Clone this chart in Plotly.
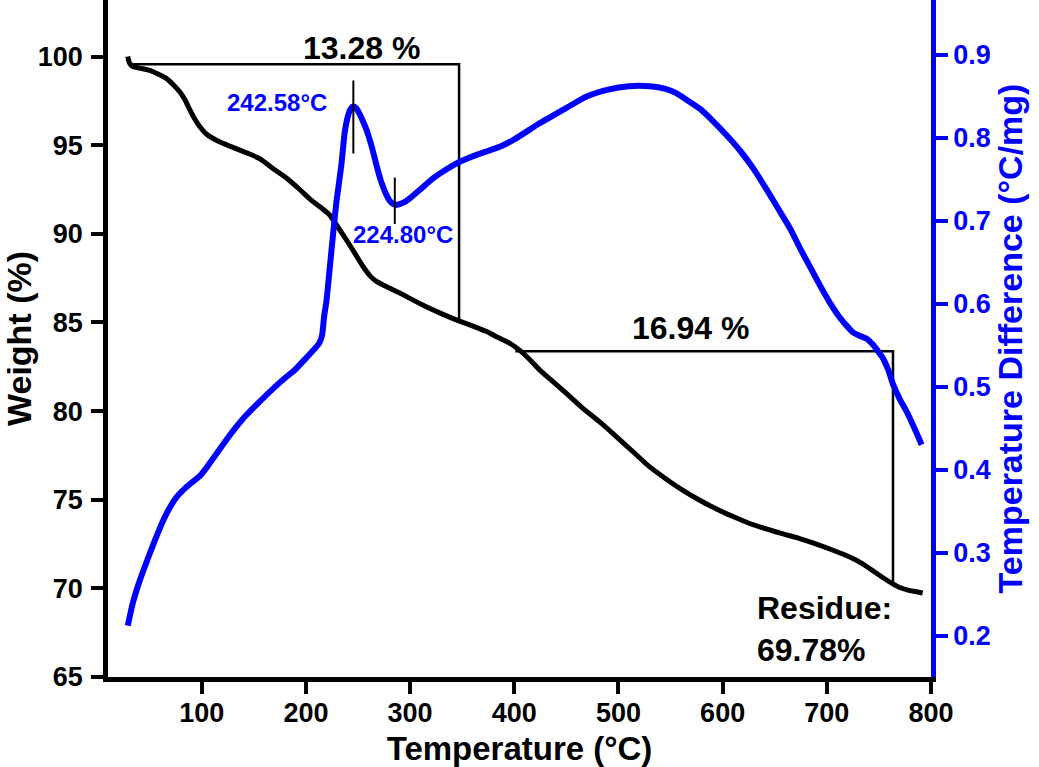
import plotly.graph_objects as go

# ---- TGA (weight %) ----
temp_tga = [29, 30.5, 33.5, 40, 50, 58, 66, 72, 79, 84, 88.5, 93, 98, 105, 117, 127, 136.5,
            146, 156, 168, 180, 194, 205, 214, 223, 230, 239, 247, 255, 262, 268, 280, 292,
            303, 315, 330, 345, 360, 375, 383, 395, 405, 415, 424.5, 435, 450, 465, 482, 500,
            515, 530, 545, 560, 578, 595, 610, 626, 642, 658, 674, 690, 706, 722, 734, 744,
            754, 763, 770, 778, 785, 792]
weight = [100.0, 99.65, 99.45, 99.35, 99.22, 99.02, 98.77, 98.45, 98.0, 97.55, 97.0, 96.5,
          96.05, 95.6, 95.19, 94.95, 94.72, 94.5, 94.23, 93.7, 93.2, 92.5, 91.9, 91.5, 91.05,
          90.45, 89.64, 88.9, 88.14, 87.6, 87.3, 86.95, 86.6, 86.26, 85.9, 85.5, 85.13, 84.8,
          84.45, 84.19, 83.85, 83.44, 82.9, 82.31, 81.77, 81.0, 80.2, 79.39, 78.45, 77.65,
          76.85, 76.2, 75.6, 74.97, 74.45, 74.05, 73.66, 73.35, 73.07, 72.81, 72.5, 72.15,
          71.77, 71.4, 71.0, 70.6, 70.27, 70.05, 69.9, 69.82, 69.74]

# ---- DTA (temperature difference) ----
temp_dta = [29, 34, 40.4, 48, 54.8, 62, 69.2, 76, 83.6, 91, 98, 105, 112.4, 122, 131.6, 143,
            155.6, 168, 179.6, 190, 200.5, 208, 213, 215.5, 217.5, 219.7, 223, 226, 229.3,
            234, 237.3, 240.5, 243, 245.5, 248, 251, 254, 258, 263, 267.7, 272, 277.3, 281,
            285.3, 290, 294, 299.7, 310, 322, 335, 347.7, 365, 386, 400, 425, 450, 470, 490,
            510, 530, 545, 555, 565, 578, 590, 603.8, 617, 629.4, 642, 655, 665, 674.2, 684,
            693.4, 703, 712.6, 720, 725.4, 732, 738, 744, 749, 754, 759, 763.5, 770, 776.6,
            784, 791]
dta = [0.212, 0.24, 0.266, 0.292, 0.314, 0.336, 0.354, 0.367, 0.377, 0.385, 0.392, 0.403,
       0.416, 0.433, 0.449, 0.466, 0.482, 0.497, 0.510, 0.521, 0.535, 0.545, 0.553, 0.562,
       0.585, 0.603, 0.645, 0.683, 0.723, 0.767, 0.807, 0.827, 0.835, 0.838, 0.836, 0.830,
       0.822, 0.810, 0.790, 0.767, 0.748, 0.731, 0.723, 0.719, 0.720, 0.722, 0.727, 0.738,
       0.751, 0.762, 0.771, 0.780, 0.789, 0.798, 0.818, 0.836, 0.850, 0.858, 0.862, 0.862,
       0.859, 0.854, 0.846, 0.835, 0.821, 0.803, 0.784, 0.763, 0.738, 0.711, 0.690, 0.667,
       0.644, 0.622, 0.601, 0.583, 0.572, 0.565, 0.561, 0.558, 0.551, 0.543, 0.534, 0.520,
       0.503, 0.485, 0.470, 0.450, 0.430]

# ---- weight-loss steps ----
step1_T = [32.5, 347, 347]
step1_W = [99.57, 99.57, 85.2]
step2_T = [401, 763.5, 763.5]
step2_W = [83.38, 83.38, 70.27]
step_labels = ["13.28 %", "16.94 %"]

# ---- DTA peak markers ----
peak_T = [245.5, 245.5]
peak_v = [0.781, 0.869]
valley_T = [285.3, 285.3]
valley_v = [0.696, 0.752]
peak_labels = ["242.58°C", "224.80°C"]

FONT = "Liberation Sans, Arial, sans-serif"
BLUE = "#0000FF"

fig = go.Figure()
fig.add_trace(go.Scatter(x=temp_tga, y=weight, mode="lines",
                         line=dict(color="black", width=5, shape="spline", smoothing=0.6),
                         showlegend=False, yaxis="y"))
fig.add_trace(go.Scatter(x=step1_T, y=step1_W, mode="lines",
                         line=dict(color="black", width=2.5), showlegend=False, yaxis="y"))
fig.add_trace(go.Scatter(x=step2_T, y=step2_W, mode="lines",
                         line=dict(color="black", width=2.5), showlegend=False, yaxis="y"))
fig.add_trace(go.Scatter(x=temp_dta, y=dta, mode="lines",
                         line=dict(color=BLUE, width=6, shape="spline", smoothing=0.6),
                         showlegend=False, yaxis="y2"))
fig.add_trace(go.Scatter(x=peak_T, y=peak_v, mode="lines",
                         line=dict(color="black", width=2), showlegend=False, yaxis="y2"))
fig.add_trace(go.Scatter(x=valley_T, y=valley_v, mode="lines",
                         line=dict(color="black", width=2), showlegend=False, yaxis="y2"))

big = dict(family=FONT, size=32, color="black", weight="bold")
blue_lab = dict(family=FONT, size=24, color=BLUE, weight="bold")
annotations = [
    dict(x=253.6, y=100.48, xref="x", yref="y", text=step_labels[0], showarrow=False, font=big),
    dict(x=569.5, y=84.68, xref="x", yref="y", text=step_labels[1], showarrow=False, font=big),
    dict(x=631, y=68.88, xref="x", yref="y", text="Residue:", showarrow=False, font=big,
         xanchor="left"),
    dict(x=631, y=66.5, xref="x", yref="y", text="69.78%", showarrow=False, font=big,
         xanchor="left"),
    dict(x=172, y=0.843, xref="x", yref="y2", text=peak_labels[0], showarrow=False, font=blue_lab),
    dict(x=293, y=0.683, xref="x", yref="y2", text=peak_labels[1], showarrow=False, font=blue_lab),
]

tickfont_k = dict(family=FONT, size=27, color="black", weight="bold")
tickfont_b = dict(family=FONT, size=27, color=BLUE, weight="bold")

fig.update_layout(
    width=1039, height=767,
    margin=dict(l=108, r=108, t=0, b=90),
    paper_bgcolor="white", plot_bgcolor="white",
    annotations=annotations,
    xaxis=dict(range=[10, 800], tickvals=[100, 200, 300, 400, 500, 600, 700, 800],
               ticks="outside", ticklen=12, tickwidth=3.5, tickcolor="black",
               showline=True, linewidth=4.5, linecolor="black", showgrid=False, zeroline=False,
               tickfont=tickfont_k, ticklabelstandoff=-4,
               title=dict(text="Temperature (°C)", standoff=11,
                          font=dict(family=FONT, size=33, color="black", weight="bold"))),
    yaxis=dict(range=[65, 103.19], tickvals=[65, 70, 75, 80, 85, 90, 95, 100],
               ticks="outside", ticklen=12, tickwidth=3.5, tickcolor="black",
               showline=True, linewidth=4.5, linecolor="black", showgrid=False, zeroline=False,
               tickfont=tickfont_k, ticklabelstandoff=3,
               title=dict(text="Weight (%)", standoff=2,
                          font=dict(family=FONT, size=34, color="black", weight="bold"))),
    yaxis2=dict(range=[0.15, 0.966], tickvals=[0.2, 0.3, 0.4, 0.5, 0.6, 0.7, 0.8, 0.9],
                overlaying="y", side="right",
                ticks="outside", ticklen=12, tickwidth=3.5, tickcolor=BLUE,
                showline=True, linewidth=4.5, linecolor=BLUE, showgrid=False, zeroline=False,
                tickfont=tickfont_b,
                title=dict(text="Temperature Difference (°C/mg)", standoff=8,
                           font=dict(family=FONT, size=34, color=BLUE, weight="bold"))),
)

fig.write_html("out.html")
